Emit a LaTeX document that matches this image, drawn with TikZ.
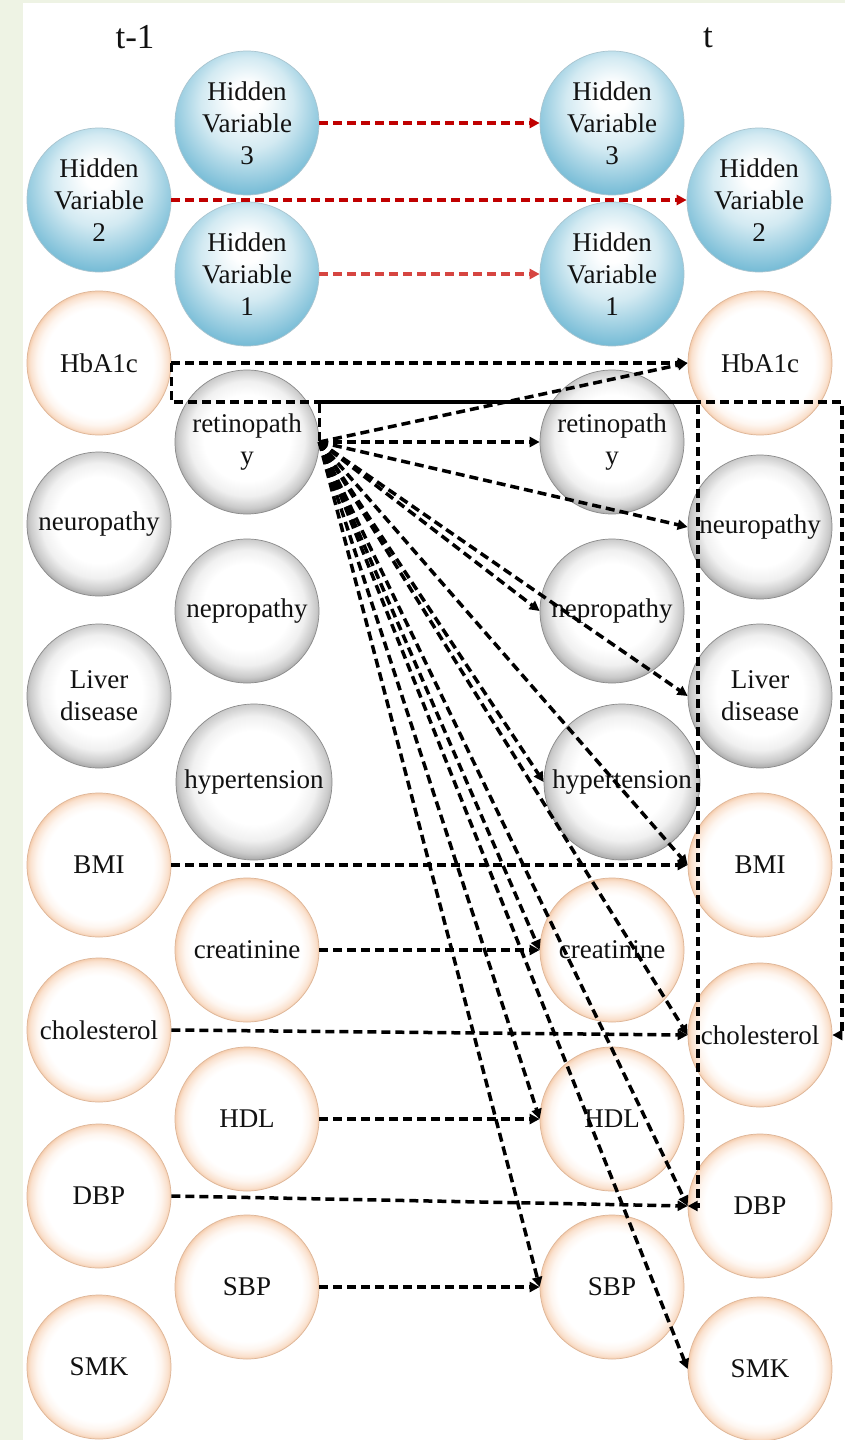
\documentclass[tikz,border=0pt]{standalone}
\usepackage{fontspec}
\setmainfont{Liberation Serif}
\usetikzlibrary{arrows.meta}

% palette
\definecolor{bgGreen}{HTML}{EEF3E4}
\definecolor{inkBlack}{HTML}{111111}
\definecolor{darkRed}{HTML}{C00000}
\definecolor{softRed}{HTML}{D64541}
\definecolor{peachLight}{HTML}{FEF6F0}
\definecolor{peachMid}{HTML}{FAE1CE}
\definecolor{peachRim}{HTML}{F5CDAE}
\definecolor{peachBorder}{HTML}{DDB597}
\definecolor{grayLight}{HTML}{F0F0F0}
\definecolor{grayMid}{HTML}{CACACA}
\definecolor{grayRim}{HTML}{969696}
\definecolor{grayBorder}{HTML}{8A8A8A}
\definecolor{blueLight}{HTML}{D3EAF2}
\definecolor{blueMid}{HTML}{7DBFD8}
\definecolor{blueRim}{HTML}{45A0C3}
\definecolor{blueBorder}{HTML}{A9C4CF}

% glassy fills for the three kinds of variables
\pgfdeclareradialshading{peachglow}{\pgfpoint{0bp}{0bp}}{%
  color(0bp)=(white); color(19bp)=(white); color(21.5bp)=(peachLight);
  color(24bp)=(peachMid); color(25bp)=(peachRim); color(50bp)=(peachRim)}
\pgfdeclareradialshading{grayglow}{\pgfpoint{0bp}{2bp}}{%
  color(0bp)=(white); color(15bp)=(white); color(20bp)=(grayLight);
  color(24bp)=(grayMid); color(27bp)=(grayRim); color(50bp)=(grayRim)}
\pgfdeclareradialshading{bluedrop}{\pgfpoint{0bp}{10bp}}{%
  color(0bp)=(white); color(5bp)=(white); color(16bp)=(blueLight);
  color(28bp)=(blueMid); color(36bp)=(blueRim); color(50bp)=(blueRim)}

\tikzset{
  varnode/.style={circle, minimum size=144pt, inner sep=0pt, align=center,
    text=inkBlack, font=\fontsize{27}{32}\selectfont, line width=0.7pt},
  obsnode/.style={varnode, shade, shading=peachglow, draw=peachBorder},
  disnode/.style={varnode, shade, shading=grayglow, draw=grayBorder},
  hidnode/.style={varnode, shade, shading=bluedrop, draw=blueBorder},
  bignode/.style={minimum size=156pt},
  conn/.style={draw=black, line width=3.5pt, dash pattern=on 9pt off 5pt,
    -{Triangle[length=10pt,width=10pt]}},
  redconn/.style={conn, draw=darkRed},
  softconn/.style={conn, draw=softRed},
  slicelabel/.style={text=inkBlack, font=\fontsize{35}{40}\selectfont}
}

\begin{document}
\begin{tikzpicture}[x=1pt,y=-1pt]
  % page background and white panel
  \fill[bgGreen] (0,0) rectangle (845,1440);
  \fill[white] (23,3) rectangle (845,1440);
  \useasboundingbox (0,0) rectangle (845,1440);

  % time slice labels
  \node[slicelabel] (lblPrev) at (135,37) {t-1};
  \node[slicelabel] (lblCur) at (708,38) {t};

  % slice t-1, outer column
  \node[hidnode] (l-h2)    at (99,200)  {Hidden\\Variable\\2};
  \node[obsnode] (l-hba1c) at (99,363)  {HbA1c};
  \node[disnode] (l-neuro) at (99,524)  {neuropathy};
  \node[disnode] (l-liver) at (99,696)  {Liver\\disease};
  \node[obsnode] (l-bmi)   at (99,865)  {BMI};
  \node[obsnode] (l-chol)  at (99,1030) {cholesterol};
  \node[obsnode] (l-dbp)   at (99,1196) {DBP};
  \node[obsnode] (l-smk)   at (99,1367) {SMK};

  % slice t-1, inner column
  \node[hidnode] (l-h3)     at (247,123)  {Hidden\\Variable\\3};
  \node[hidnode] (l-h1)     at (247,274)  {Hidden\\Variable\\1};
  \node[disnode] (l-retino) at (247,442)  {retinopath\\y};
  \node[disnode] (l-nep)    at (247,611)  {nepropathy};
  \node[disnode,bignode] (l-hyper) at (254,782) {hypertension};
  \node[obsnode] (l-creat)  at (247,950)  {creatinine};
  \node[obsnode] (l-hdl)    at (247,1119) {HDL};
  \node[obsnode] (l-sbp)    at (247,1287) {SBP};

  % slice t, inner column
  \node[hidnode] (r-h3)     at (612,123)  {Hidden\\Variable\\3};
  \node[hidnode] (r-h1)     at (612,274)  {Hidden\\Variable\\1};
  \node[disnode] (r-retino) at (612,442)  {retinopath\\y};
  \node[disnode] (r-nep)    at (612,611)  {nepropathy};
  \node[disnode,bignode] (r-hyper) at (622,782) {hypertension};
  \node[obsnode] (r-creat)  at (612,950)  {creatinine};
  \node[obsnode] (r-hdl)    at (612,1119) {HDL};
  \node[obsnode] (r-sbp)    at (612,1287) {SBP};

  % slice t, outer column
  \node[hidnode] (r-h2)    at (759,200)  {Hidden\\Variable\\2};
  \node[obsnode] (r-hba1c) at (760,363)  {HbA1c};
  \node[disnode] (r-neuro) at (760,527)  {neuropathy};
  \node[disnode] (r-liver) at (760,696)  {Liver\\disease};
  \node[obsnode] (r-bmi)   at (760,865)  {BMI};
  \node[obsnode] (r-chol)  at (760,1035) {cholesterol};
  \node[obsnode] (r-dbp)   at (760,1206) {DBP};
  \node[obsnode] (r-smk)   at (760,1369) {SMK};

  % hidden state transitions
  \draw[redconn]  (l-h3.east) -- (r-h3.west);
  \draw[redconn]  (l-h2.east) -- (r-h2.west);
  \draw[softconn] (l-h1.east) -- (r-h1.west);

  % observed variable transitions
  \draw[conn] (l-hba1c.east) -- (r-hba1c.west);
  \draw[conn] (l-bmi.east)   -- (r-bmi.west);
  \draw[conn] (l-creat.east) -- (r-creat.west);
  \draw[conn] (l-chol.east)  -- (r-chol.west);
  \draw[conn] (l-hdl.east)   -- (r-hdl.west);
  \draw[conn] (l-dbp.east)   -- (r-dbp.west);
  \draw[conn] (l-sbp.east)   -- (r-sbp.west);

  % routed links along the shared bus line; the second one is phased so
  % that its dashes fill the gaps of the first where the two run together
  \coordinate (busR) at (842,402);
  \coordinate (busM) at (698,402);
  \draw[conn] (l-hba1c.east) -- (l-hba1c.east |- busR) -- (busR)
    -- (busR |- r-chol.east) -- (r-chol.east);
  \draw[conn, dash phase=12.5pt] (l-retino.east) -- (l-retino.east |- busM)
    -- (busM) -- (busM |- r-dbp.west) -- (r-dbp.west);

  % retinopathy influences on slice t
  \foreach \tgt in {r-hba1c, r-retino, r-neuro, r-nep, r-liver, r-hyper,
                    r-bmi, r-creat, r-chol, r-hdl, r-dbp, r-sbp, r-smk}
    \draw[conn] (l-retino.east) -- (\tgt.west);
\end{tikzpicture}
\end{document}
